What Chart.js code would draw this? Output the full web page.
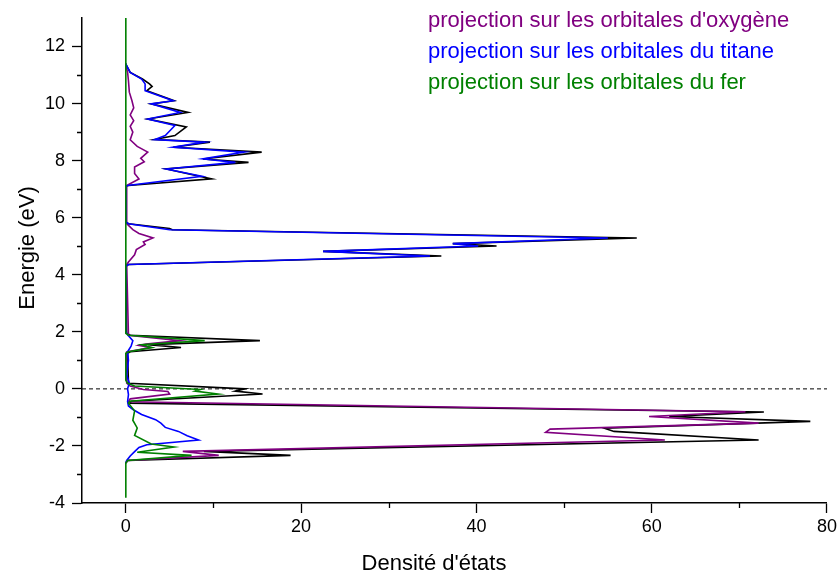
<!DOCTYPE html>
<html>
<head>
<meta charset="utf-8">
<script src="https://cdn.jsdelivr.net/npm/chart.js@4/dist/chart.umd.min.js"></script>
<style>
  body { margin: 0; background: #fff; }
  #wrap { position: relative; width: 840px; height: 573px; font-family: "Liberation Sans", Arial, sans-serif; }
  .legend { position: absolute; left: 428px; top: 4px; font-size: 22px; line-height: 31px; white-space: nowrap; }
  .xtitle { position: absolute; left: 334px; top: 552px; width: 200px; text-align: center; font-size: 22px; line-height: 22px; white-space: nowrap; }
  .ytitle { position: absolute; left: -73px; top: 237px; width: 200px; height: 22px; text-align: center; font-size: 22px; line-height: 22px; white-space: nowrap; transform: rotate(-90deg); }
</style>
</head>
<body>
<div id="wrap">
  <canvas id="dos" width="840" height="573"></canvas>
  <div class="legend">
    <div style="color:#800080">projection sur les orbitales d'oxygène</div>
    <div style="color:#0000ff">projection sur les orbitales du titane</div>
    <div style="color:#008000">projection sur les orbitales du fer</div>
  </div>
  <div class="xtitle">Densité d'états</div>
  <div class="ytitle">Energie (eV)</div>
</div>
<script>
// Densité d'états totale (noir)
const totalE = [-2.6, -2.51, -2.33, -2.19, -1.79, -1.49, -1.38, -1.14, -0.97, -0.81, -0.5, -0.43, -0.18, -0.08, 0.0, 0.2, 1.25, 1.3, 1.45, 1.55, 1.69, 1.88, 1.95, 4.3, 4.36, 4.66, 4.82, 5.01, 5.09, 5.29, 5.58, 5.62, 5.79, 5.85, 7.1, 7.13, 7.36, 7.71, 7.94, 8.06, 8.3, 8.47, 8.65, 8.74, 8.88, 9.18, 9.46, 9.69, 9.99, 10.1, 10.45, 10.6, 10.69, 10.86, 11.09, 11.32, 11.4];
const totalDos = [0, 0.2, 18.8, 8.9, 72.2, 55.7, 54.6, 78.1, 62, 72.8, 0.5, 0.6, 15.6, 12.5, 13.6, 0.3, 0.2, 0.5, 6.3, 2.5, 15.3, 0.5, 0.1, 0, 0.3, 36.0, 22.5, 42.3, 37.3, 58.3, 5.3, 5.0, 0.3, 0, 0, 0.3, 9.8, 4.6, 14.0, 8.8, 15.5, 5.4, 9.6, 3.3, 5.6, 6.9, 2.5, 7.1, 2.9, 5.5, 2.4, 3.0, 2.7, 1.9, 0.5, 0.1, 0];

// Projection oxygène (violet)
const oxyE = [-2.6, -2.51, -2.33, -2.19, -1.79, -1.52, -1.41, -1.2, -0.97, -0.8, -0.45, -0.35, -0.18, -0.09, -0.02, 0.1, 0.2, 1.3, 1.45, 1.52, 1.57, 1.69, 1.88, 4.36, 4.45, 4.7, 4.88, 5.06, 5.15, 5.29, 5.45, 5.58, 5.79, 7.13, 7.36, 7.55, 7.78, 7.96, 8.08, 8.3, 8.5, 8.73, 9.0, 9.2, 9.4, 9.6, 9.85, 10.1, 10.4, 10.8, 11.1, 11.32];
const oxyDos = [0, 0.2, 10.6, 6.5, 61.5, 47.9, 48.4, 72.2, 59.7, 70.7, 0.3, 0.5, 5.0, 4.8, 2.0, 0.5, 0.1, 0.1, 2.8, 1.5, 2.3, 6.2, 0.3, 0.1, 0.3, 1.0, 1.2, 2.2, 2.0, 3.1, 1.5, 0.8, 0.1, 0.1, 1.5, 1.0, 1.0, 2.1, 1.7, 2.5, 1.3, 0.5, 0.8, 0.5, 0.9, 0.5, 0.9, 0.7, 0.4, 0.3, 0.2, 0];

// Projection titane (bleu)
const tiE = [-2.6, -2.51, -2.35, -2.2, -2.05, -1.96, -1.79, -1.64, -1.49, -1.35, -1.2, -1.08, -0.9, -0.74, -0.6, -0.45, -0.2, 0.0, 0.2, 0.5, 1.0, 1.3, 1.5, 1.69, 1.9, 2.0, 4.3, 4.36, 4.66, 4.82, 5.01, 5.09, 5.29, 5.58, 5.79, 5.85, 7.1, 7.13, 7.45, 7.71, 7.94, 8.06, 8.3, 8.47, 8.65, 8.74, 8.88, 9.23, 9.46, 9.69, 9.99, 10.1, 10.45, 10.69, 10.86, 11.09, 11.32, 11.4];
const tiDos = [0, 0.1, 0.5, 1.0, 1.5, 2.4, 8.3, 7.0, 6.0, 4.5, 4.0, 3.4, 1.8, 0.9, 0.3, 0.2, 0.3, 0.2, 0.4, 0.1, 0.3, 0.2, 0.6, 0.8, 0.2, 0, 0, 0.3, 34.7, 22.5, 40.2, 37.3, 55.0, 5.0, 0.3, 0, 0, 0.2, 8.7, 4.6, 12.5, 8.8, 13.5, 5.4, 9.0, 3.3, 4.5, 5.6, 2.5, 6.2, 2.9, 5.4, 2.2, 2.2, 1.8, 0.5, 0.1, 0];

// Projection fer (vert)
const feE = [-3.82, -2.6, -2.51, -2.33, -2.22, -2.04, -1.93, -1.63, -1.37, -1.1, -0.77, -0.5, -0.43, -0.18, -0.08, -0.02, 0.1, 0.2, 0.3, 1.25, 1.3, 1.45, 1.55, 1.69, 1.88, 1.95, 13];
const feDos = [0, 0, 0.2, 7.5, 1.3, 5.5, 2.9, 1.0, 1.3, 0.8, 1.0, 0.3, 0.5, 10.5, 7.9, 8.5, 1.0, 0.2, 0, 0, 0.3, 3.0, 1.8, 9.0, 0.3, 0, 0];

// Niveau de Fermi (pointillés)
const fermiE = [0, 0];
const fermiDos = [-5, 80];

// Graduations
const xTicks = [0, 20, 40, 60, 80];
const xMinor = [10, 30, 50, 70];
const yTicks = [-4, -2, 0, 2, 4, 6, 8, 10, 12];
const yMinor = [-3, -1, 1, 3, 5, 7, 9, 11];

const toPoints = (es, ds) => es.map((e, i) => ({ x: ds[i], y: e }));

// "order" : le plus petit est dessiné par-dessus
let serie = (label, es, ds, color, order, extra) => Object.assign({
  label: label,
  data: toPoints(es, ds),
  borderColor: color,
  borderWidth: 1.6,
  pointRadius: 0,
  showLine: true,
  tension: 0,
  order: order,
}, extra || {});

// Petites graduations intermédiaires
const minorTicks = {
  id: "minorTicks",
  afterDraw(chart) {
    const { ctx, chartArea, scales } = chart;
    ctx.save();
    ctx.strokeStyle = "#000";
    ctx.lineWidth = 1.3;
    ctx.beginPath();
    xMinor.forEach((v) => {
      const px = Math.round(scales.x.getPixelForValue(v)) + 0.5;
      ctx.moveTo(px, chartArea.bottom);
      ctx.lineTo(px, chartArea.bottom + 5);
    });
    yMinor.forEach((v) => {
      const py = Math.round(scales.y.getPixelForValue(v)) + 0.5;
      ctx.moveTo(chartArea.left, py);
      ctx.lineTo(chartArea.left - 5, py);
    });
    ctx.stroke();
    ctx.restore();
  },
};

Chart.defaults.font.family = '"Liberation Sans", Arial, sans-serif';
Chart.defaults.color = "#000";

new Chart(document.getElementById("dos"), {
  type: "scatter",
  data: {
    datasets: [
      serie("Fermi", fermiE, fermiDos, "#000", 5, { borderWidth: 1, borderDash: [4, 3] }),
      serie("total", totalE, totalDos, "#000", 4),
      serie("oxygène", oxyE, oxyDos, "#800080", 3),
      serie("titane", tiE, tiDos, "#0000ff", 2),
      serie("fer", feE, feDos, "#008000", 1),
    ],
  },
  options: {
    responsive: false,
    animation: false,
    layout: { padding: { top: 18, right: 13, left: 0, bottom: 0 } },
    plugins: { legend: { display: false }, tooltip: { enabled: false } },
    scales: {
      x: {
        type: "linear",
        min: -5,
        max: 80,
        afterBuildTicks: (scale) => { scale.ticks = xTicks.map((v) => ({ value: v })); },
        afterFit: (scale) => { scale.height = 70; },
        grid: { drawOnChartArea: false, drawTicks: true, tickLength: 10, tickColor: "#000", tickWidth: 1.3 },
        border: { color: "#000", width: 1.5 },
        ticks: { font: { size: 18 }, padding: 3, maxRotation: 0 },
      },
      y: {
        type: "linear",
        min: -4,
        max: 13,
        afterBuildTicks: (scale) => { scale.ticks = yTicks.map((v) => ({ value: v })); },
        afterFit: (scale) => { scale.width = 82; },
        grid: { drawOnChartArea: false, drawTicks: true, tickLength: 10, tickColor: "#000", tickWidth: 1.3 },
        border: { color: "#000", width: 1.5 },
        ticks: { font: { size: 18 }, padding: 7 },
      },
    },
  },
  plugins: [minorTicks],
});
</script>
</body>
</html>
